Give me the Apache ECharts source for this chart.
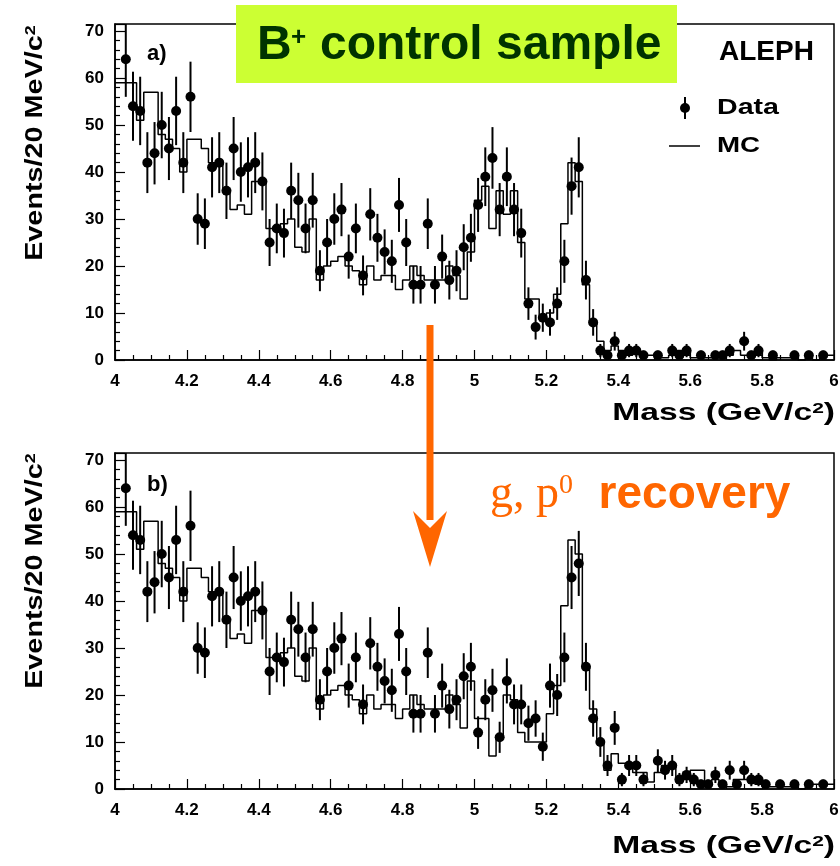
<!DOCTYPE html>
<html><head><meta charset="utf-8">
<script src="https://cdn.jsdelivr.net/npm/echarts/dist/echarts.min.js"></script>
<style>html,body{margin:0;padding:0;background:#fff}#c{width:840px;height:866px}</style>
</head><body><div id="c"></div>
<script>
// histogram binning: 100 bins of 20 MeV from 4.0 to 6.0 GeV/c^2
const binStart = 4.0, binWidth = 0.02, nBins = 100;
const xTickLabels = ['4','4.2','4.4','4.6','4.8','5','5.2','5.4','5.6','5.8','6'];

// panel a) data counts per bin
const dataA = [0,64,54,53,42,44,50,45,53,42, 56,30,29,41,42,36,45,40,41,42,
  38,25,28,27,36,34,28,34,19,25, 30,32,22,28,18,31,26,23,21,33,
  25,16,16,29,16,22,17,19,24,26, 33,39,43,32,39,32,27,12,7,9,
  8,12,21,37,41,17,8,2,1,4, 1,2,2,1,0,1,0,2,1,2,
  0,1,0,1,1,2,0,4,1,2, 0,1,0,0,1,0,1,0,1,0];
// panel a) MC histogram
const mcA = [59,59,59,51,57,57,48,47,45,40, 47,47,45,42,42,36,32,33,31,38,
  38,28,28,29,30,24,23,30,17,20, 21,22,20,19,16,20,17,18,18,15,
  17,20,18,17,17,17,20,18,13,23, 34,37,28,36,31,36,25,13,13,9,
  10,14,29,42,38,16,8,4,2,3, 2,1,2,1,1,1,0.5,1,2,1,
  0.5,0.5,0.5,1,1,1,2,1,1,1, 0.5,0,0.5,0.5,0.5,0,0.5,0,1,1];
// panel b) data counts per bin
const dataB = [0,64,54,53,42,44,50,45,53,42, 56,30,29,41,42,36,45,40,41,42,
  38,25,28,27,36,34,28,34,19,25, 30,32,22,28,18,31,26,23,21,33,
  25,16,16,29,16,22,17,19,24,26, 12,19,21,11,23,18,18,14,15,9,
  22,20,28,45,48,26,15,10,5,13, 2,5,5,2,0,6,4,5,2,3,
  2,1,1,3,1,4,1,4,2,2, 1,0,1,0,1,0,1,0,1,0];
// panel b) MC histogram
const mcB = [59,59,59,51,57,57,48,47,45,40, 47,47,45,42,42,36,32,33,31,38,
  38,28,28,29,30,24,23,30,17,20, 21,22,20,19,16,20,17,18,18,15,
  17,20,18,17,17,17,20,18,13,23, 15,15,7,11,20,19,12,10,10,10,
  16,22,39,53,50,26,17,10,4,7.5, 5.5,5.5,3.5,3.5,1.5,3.5,5,5,1.5,2,
  4,4,1,2,1.5,0.5,2,2,1.5,1, 0.5,0.5,1,0.5,0.5,0,0.5,1,1,1];

function histPoints(vals) {
  const pts = vals.map((v, i) => [binStart + i * binWidth, v]);
  pts.push([binStart + nBins * binWidth, vals[vals.length - 1]]);
  return pts;
}
function dataPoints(vals) {
  const pts = [];
  vals.forEach((v, i) => { if (v > 0) pts.push([binStart + (i + 0.5) * binWidth, v]); });
  return pts;
}
function errRender(params, api) {
  const x = api.value(0), y = api.value(1);
  const e = Math.sqrt(y);
  const p = api.coord([x, y]);
  const t = api.coord([x, y + e]);
  const b = api.coord([x, Math.max(0, y - e)]);
  return { type: 'group', children: [
    { type: 'line', shape: { x1: p[0], y1: t[1], x2: p[0], y2: b[1] }, style: { stroke: '#000', lineWidth: 2 } },
    { type: 'circle', shape: { cx: p[0], cy: p[1], r: 5 }, style: { fill: '#000' } }
  ]};
}

const FONT = 'Liberation Sans';
const labelStyle = { color: '#000', fontFamily: FONT, fontWeight: 'bold', fontSize: 17 };
function xAx(gi) {
  return { gridIndex: gi, type: 'value', min: 4, max: 6, interval: 0.2,
    axisLine: { lineStyle: { color: '#000', width: 1.5 } },
    axisTick: { inside: true, length: 10, lineStyle: { color: '#000', width: 1.2 } },
    minorTick: { show: true, splitNumber: 4, length: 5, lineStyle: { color: '#000', width: 1.2 } },
    splitLine: { show: false },
    axisLabel: Object.assign({ margin: 13, formatter: v => { const s = (+v).toFixed(1).replace(/\.0$/, ''); return xTickLabels.indexOf(s) >= 0 ? s : ''; } }, labelStyle)
  };
}
function yAx(gi) {
  return { gridIndex: gi, type: 'value', min: 0, max: 71.5, interval: 10,
    axisLine: { lineStyle: { color: '#000', width: 1.5 } },
    axisTick: { inside: true, length: 10, lineStyle: { color: '#000', width: 1.2 } },
    minorTick: { show: true, splitNumber: 5, length: 5, lineStyle: { color: '#000', width: 1.2 } },
    splitLine: { show: false },
    axisLabel: Object.assign({ margin: 11, showMaxLabel: false, formatter: v => (v % 10 === 0 ? String(v) : '') }, labelStyle)
  };
}
function txt(x, y, text, font, opts) {
  return Object.assign({ type: 'text', x: x, y: y, z: 100,
    style: Object.assign({ text: text, font: font, fill: '#000', textAlign: 'left', textVerticalAlign: 'middle' }, (opts && opts.style) || {}) },
    opts && opts.el || {});
}
function yTitle(cy) {
  return { type: 'text', x: 35, y: cy, rotation: Math.PI / 2, scaleX: 1.2, z: 100,
    style: { text: '{a|Events/20 MeV/c}{s|2}', textAlign: 'center', textVerticalAlign: 'middle',
      rich: { a: { font: 'bold 24px "Liberation Sans"', fill: '#000' }, s: { font: 'bold 15px "Liberation Sans"', fill: '#000', verticalAlign: 'top' } } } };
}
function xTitle(cy) {
  return { type: 'text', x: 835, y: cy, z: 100, scaleX: 1.4,
    style: { text: '{a|Mass (GeV/c}{s|2}{a|)}', textAlign: 'right', textVerticalAlign: 'middle',
      rich: { a: { font: 'bold 24px "Liberation Sans"', fill: '#000' }, s: { font: 'bold 15px "Liberation Sans"', fill: '#000', verticalAlign: 'top' } } } };
}

const chart = echarts.init(document.getElementById('c'), null, { renderer: 'canvas' });
chart.setOption({
  animation: false,
  backgroundColor: '#fff',
  grid: [
    { left: 115, top: 24, width: 719, height: 336, show: true, borderColor: '#000', borderWidth: 1.5, outerBoundsMode: 'none' },
    { left: 115, top: 453, width: 719, height: 336, show: true, borderColor: '#000', borderWidth: 1.5, outerBoundsMode: 'none' }
  ],
  xAxis: [xAx(0), xAx(1)],
  yAxis: [yAx(0), yAx(1)],
  series: [
    { type: 'line', xAxisIndex: 0, yAxisIndex: 0, step: 'end', data: histPoints(mcA), showSymbol: false, lineStyle: { color: '#000', width: 1.5 }, clip: true },
    { type: 'custom', xAxisIndex: 0, yAxisIndex: 0, data: dataPoints(dataA), renderItem: errRender, clip: true },
    { type: 'line', xAxisIndex: 1, yAxisIndex: 1, step: 'end', data: histPoints(mcB), showSymbol: false, lineStyle: { color: '#000', width: 1.5 }, clip: true },
    { type: 'custom', xAxisIndex: 1, yAxisIndex: 1, data: dataPoints(dataB), renderItem: errRender, clip: true }
  ],
  graphic: [
    // title box
    { type: 'rect', shape: { x: 236, y: 5, width: 441, height: 78 }, style: { fill: '#CCFF33' }, z: 90 },
    txt(257, 46, 'B', 'bold 48px "Liberation Sans"', { style: { fill: '#003300' } }),
    txt(291, 38, '+', 'bold 26px "Liberation Sans"', { style: { fill: '#003300' } }),
    txt(320, 46, 'control sample', 'bold 48px "Liberation Sans"', { style: { fill: '#003300' } }),
    // ALEPH + legend
    txt(719, 52, 'ALEPH', 'bold 28px "Liberation Sans"'),
    { type: 'line', shape: { x1: 685, y1: 97, x2: 685, y2: 119 }, style: { stroke: '#000', lineWidth: 2 }, z: 100 },
    { type: 'circle', shape: { cx: 685, cy: 108, r: 5 }, style: { fill: '#000' }, z: 100 },
    txt(717, 108, 'Data', 'bold 22px "Liberation Sans"', { el: { scaleX: 1.3 } }),
    { type: 'line', shape: { x1: 669, y1: 146, x2: 700, y2: 146 }, style: { stroke: '#000', lineWidth: 1.5 }, z: 100 },
    txt(717, 146, 'MC', 'bold 22px "Liberation Sans"', { el: { scaleX: 1.26 } }),
    // panel labels
    txt(147, 54, 'a)', 'bold 22px "Liberation Sans"'),
    txt(147, 485, 'b)', 'bold 22px "Liberation Sans"'),
    // axis titles
    yTitle(143), yTitle(571),
    xTitle(413), xTitle(846),
    // orange arrow
    { type: 'line', shape: { x1: 430, y1: 325, x2: 430, y2: 520 }, style: { stroke: '#FF6600', lineWidth: 7 }, z: 110 },
    { type: 'polygon', shape: { points: [[413, 511], [430, 528], [447, 511], [430, 567]] }, style: { fill: '#FF6600' }, z: 110 },
    // recovery label
    { type: 'text', x: 490, y: 495, z: 110,
      style: { text: '{g|g, p}{z|0}{r|  recovery}', textAlign: 'left', textVerticalAlign: 'middle',
        rich: { g: { font: '46px "Liberation Serif"', fill: '#FF6600' }, z: { font: '28px "Liberation Serif"', fill: '#FF6600', verticalAlign: 'top' }, r: { font: 'bold 46px "Liberation Sans"', fill: '#FF6600' } } } }
  ]
});
</script></body></html>
